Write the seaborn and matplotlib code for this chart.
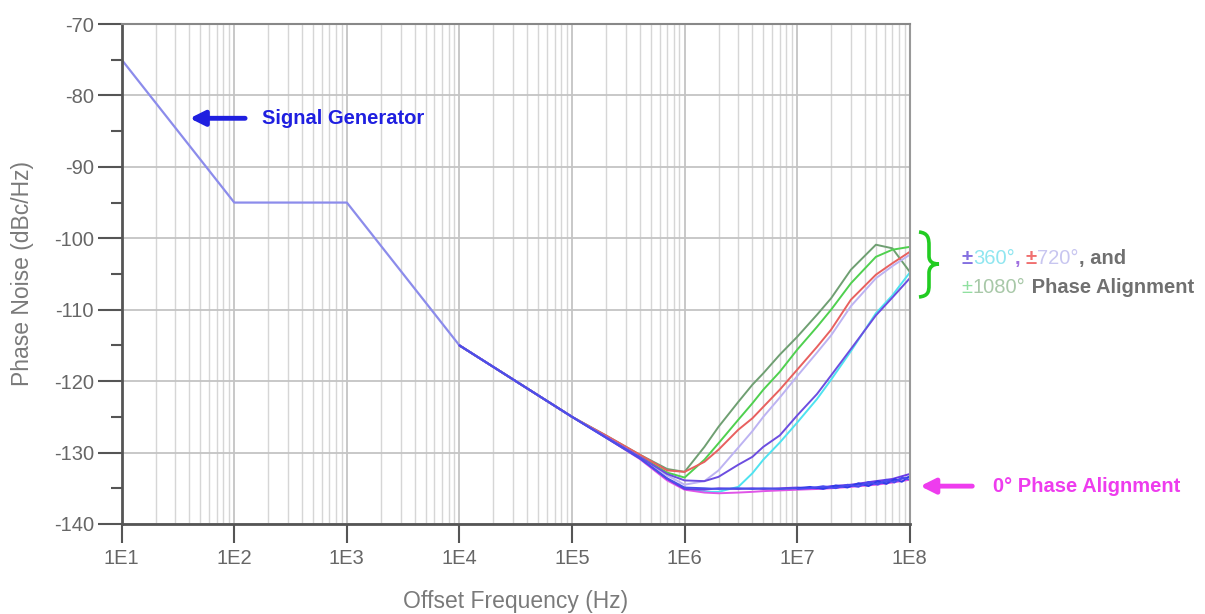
import matplotlib
matplotlib.use("Agg")
import matplotlib.pyplot as plt
import seaborn as sns
from matplotlib.path import Path
from matplotlib.patches import PathPatch
from matplotlib.ticker import FixedLocator, FixedFormatter, NullFormatter

# Values
SG_FREQ = [1e1, 1e2, 1e3, 1e4, 1e5]
SG_NOISE = [-75, -95, -95, -115, -125]

FREQ = [1e4, 1e5, 2e5, 4e5, 7e5, 1e6, 1.5e6, 2e6, 3e6, 4e6, 5e6, 7e6,
        1e7, 1.5e7, 2e7, 3e7, 5e7, 7e7, 1e8]

DEG1080_A = [-115, -125, -127.6, -130.3, -132.3, -132.7, -129.2, -126.4, -122.9, -120.5,
             -118.9, -116.3, -113.8, -110.7, -108.4, -104.4, -100.9, -101.4, -104.7]
DEG1080_B = [-115, -125, -127.7, -130.5, -132.8, -133.5, -131.0, -128.7, -125.4, -123.1,
             -121.2, -118.7, -115.6, -112.4, -110.0, -106.3, -102.6, -101.6, -101.2]
DEG720_A = [-115, -125, -127.6, -130.3, -132.5, -132.7, -131.3, -129.6, -126.8, -125.2,
            -123.6, -121.2, -118.4, -115.2, -112.8, -108.6, -105.1, -103.5, -101.9]
DEG720_B = [-115, -125, -127.8, -130.6, -133.2, -134.5, -134.0, -132.5, -129.3, -127.0,
            -125.0, -122.3, -119.3, -116.0, -113.6, -109.5, -105.6, -103.9, -102.3]
DEG360_A = [-115, -125, -127.8, -130.6, -133.0, -133.9, -134.0, -133.4, -131.7, -130.6,
            -129.2, -127.6, -124.8, -121.8, -119.2, -115.5, -110.8, -108.3, -105.6]
DEG360_B = [-115, -125, -127.9, -130.8, -133.8, -135.0, -135.5, -135.5, -134.8, -132.9,
            -131.0, -128.6, -125.8, -122.5, -119.8, -115.8, -110.5, -108.0, -104.8]
ZERO_A = [-115, -125, -127.9, -130.8, -133.6, -134.9, -135.0, -135.1, -135.0, -135.1,
          -135.0, -135.1, -135.0, -134.9, -134.9, -134.6, -134.3, -134.0, -133.4]
ZERO_B = [-115, -125, -127.9, -130.8, -133.7, -135.1, -135.2, -135.0, -135.1, -135.0,
          -135.1, -135.0, -134.9, -135.0, -134.7, -134.5, -134.0, -133.7, -133.0]
ZERO_C = [-115, -125, -127.9, -130.9, -133.9, -135.2, -135.6, -135.7, -135.6, -135.5,
          -135.4, -135.3, -135.2, -135.1, -135.0, -134.8, -134.5, -134.2, -133.8]

# noisy tail of the 0 degree traces
TAIL_FREQ = [1e7, 1.3e7, 1.7e7, 2.2e7, 2.8e7, 3.5e7, 4.3e7, 5.2e7, 6.2e7, 7.3e7, 8.5e7, 1e8]
TAIL_A = [-135.0, -134.8, -135.1, -134.6, -134.9, -134.3, -134.7, -134.0, -134.4, -133.7, -134.1, -133.3]
TAIL_B = [-135.1, -135.0, -134.7, -135.0, -134.5, -134.8, -134.1, -134.5, -133.8, -134.2, -133.5, -133.8]

XTICKS = [1e1, 1e2, 1e3, 1e4, 1e5, 1e6, 1e7, 1e8]
XTICK_LABELS = ["1E1", "1E2", "1E3", "1E4", "1E5", "1E6", "1E7", "1E8"]
YTICKS = [-140, -130, -120, -110, -100, -90, -80, -70]
YTICK_LABELS = ["-140", "-130", "-120", "-110", "-100", "-90", "-80", "-70"]

traces = [
    (DEG1080_A, "#6f9f72"),
    (DEG1080_B, "#4fd04f"),
    (DEG720_A, "#e8605f"),
    (DEG720_B, "#bdb3f2"),
    (DEG360_B, "#4fe3f0"),
    (DEG360_A, "#6c4de0"),
    (ZERO_C, "#e055e8"),
    (ZERO_B, "#6a3ae6"),
    (ZERO_A, "#4a50e8"),
]

sns.set_style("white")
plt.rcParams['font.family'] = ['Liberation Sans', 'DejaVu Sans']

fig = plt.figure(figsize=(12.05, 6.14), dpi=100)
ax = fig.add_axes([0.101, 0.1466, 0.654, 0.8143])

sns.lineplot(x=SG_FREQ, y=SG_NOISE, color="#8c8ceb", lw=1.6, ax=ax)
for vals, col in traces:
    sns.lineplot(x=FREQ, y=vals, color=col, lw=1.4, ax=ax)
sns.lineplot(x=TAIL_FREQ, y=TAIL_A, color="#2f3ce8", lw=1.3, ax=ax)
sns.lineplot(x=TAIL_FREQ, y=TAIL_B, color="#4a4af0", lw=1.3, ax=ax)

ax.set_xscale("log")
ax.set_xlim(1e1, 1e8)
ax.set_ylim(-140, -70)

# grid
ax.xaxis.set_major_locator(FixedLocator(XTICKS))
ax.xaxis.set_major_formatter(FixedFormatter(XTICK_LABELS))
minor_x = [m * 10 ** e for e in range(1, 8) for m in range(2, 10)]
ax.xaxis.set_minor_locator(FixedLocator(minor_x))
ax.xaxis.set_minor_formatter(NullFormatter())
ax.yaxis.set_major_locator(FixedLocator(YTICKS))
ax.yaxis.set_major_formatter(FixedFormatter(YTICK_LABELS))
ax.yaxis.set_minor_locator(FixedLocator([-135, -125, -115, -105, -95, -85, -75]))
ax.grid(True, which="major", axis="both", color="#c4c4c4", lw=1.3)
ax.grid(True, which="minor", axis="x", color="#d6d6d6", lw=1.0)
ax.set_axisbelow(True)

ax.tick_params(axis="x", which="major", bottom=True, direction="out", length=14, width=1.5,
               color="#555555", labelsize=14.5, labelcolor="#666666", pad=4)
ax.tick_params(axis="x", which="minor", bottom=False, length=0)
ax.tick_params(axis="y", which="major", left=True, direction="out", length=17, width=1.5,
               color="#555555", labelsize=14.5, labelcolor="#666666", pad=3)
ax.tick_params(axis="y", which="minor", left=True, direction="out", length=8, width=1.5,
               color="#555555")

for side in ["left", "bottom"]:
    ax.spines[side].set_color("#555555")
    ax.spines[side].set_linewidth(2)
ax.spines["top"].set_color("#888888")
ax.spines["top"].set_linewidth(1.5)
ax.spines["right"].set_color("#999999")
ax.spines["right"].set_linewidth(1.5)

ax.set_xlabel("Offset Frequency (Hz)", fontsize=16.5, color="#7a7a7a", labelpad=16)
ax.set_ylabel("Phase Noise (dBc/Hz)", fontsize=16.5, color="#7a7a7a", labelpad=14)

# annotations
blue = "#1f1fe0"
ax.annotate("", xy=(38, -83.2), xytext=(132, -83.2),
            arrowprops=dict(arrowstyle="-|>", lw=3.5, color=blue, mutation_scale=22))
ax.text(175, -83.2, "Signal Generator", color=blue, fontsize=14.5,
        fontweight="bold", va="center", ha="left")

mag = "#ee3cee"
ax.annotate("", xy=(1.17e8, -134.7), xytext=(3.8e8, -134.7), annotation_clip=False,
            arrowprops=dict(arrowstyle="-|>", lw=3.5, color=mag, mutation_scale=22))
ax.text(5.5e8, -134.7, "0° Phase Alignment", color=mag, fontsize=14.5,
        fontweight="bold", va="center", ha="left", clip_on=False)


def chain(pieces, x, y):
    prev = None
    for txt, col, wt in pieces:
        if prev is None:
            prev = ax.text(x, y, txt, color=col, fontsize=14.5, fontweight=wt,
                           va="bottom", ha="left", clip_on=False)
        else:
            prev = ax.annotate(txt, xy=(1, 0), xycoords=prev, color=col,
                               fontsize=14.5, fontweight=wt, va="bottom", ha="left",
                               annotation_clip=False)


chain([("±", "#8470e0", "bold"), ("360°", "#90e6f0", "normal"), (", ", "#a070e0", "bold"),
       ("±", "#f07070", "bold"), ("720°", "#c8c6f0", "normal"), (", and", "#707070", "bold")],
      2.9e8, -104.1)
chain([("±", "#90e0a0", "normal"), ("1080°", "#a8c8a8", "normal"),
       (" Phase Alignment", "#707070", "bold")],
      2.9e8, -108.2)

# curly brace
W, H = 1205.0, 614.0
pts = [(919, 232), (928, 233), (929, 238), (929, 246), (929, 256),
       (929, 262), (933, 264), (939, 264),
       (933, 264), (929, 267), (929, 273), (929, 285),
       (929, 292), (928, 296), (919, 297)]
codes = [Path.MOVETO, Path.CURVE4, Path.CURVE4, Path.CURVE4, Path.LINETO,
         Path.CURVE4, Path.CURVE4, Path.CURVE4,
         Path.CURVE4, Path.CURVE4, Path.CURVE4, Path.LINETO,
         Path.CURVE4, Path.CURVE4, Path.CURVE4]
brace = Path([(px / W, 1 - py / H) for px, py in pts], codes)
fig.add_artist(PathPatch(brace, transform=fig.transFigure, fill=False,
                         edgecolor="#22cc22", lw=2.6))

fig.savefig("out.png", dpi=100)
